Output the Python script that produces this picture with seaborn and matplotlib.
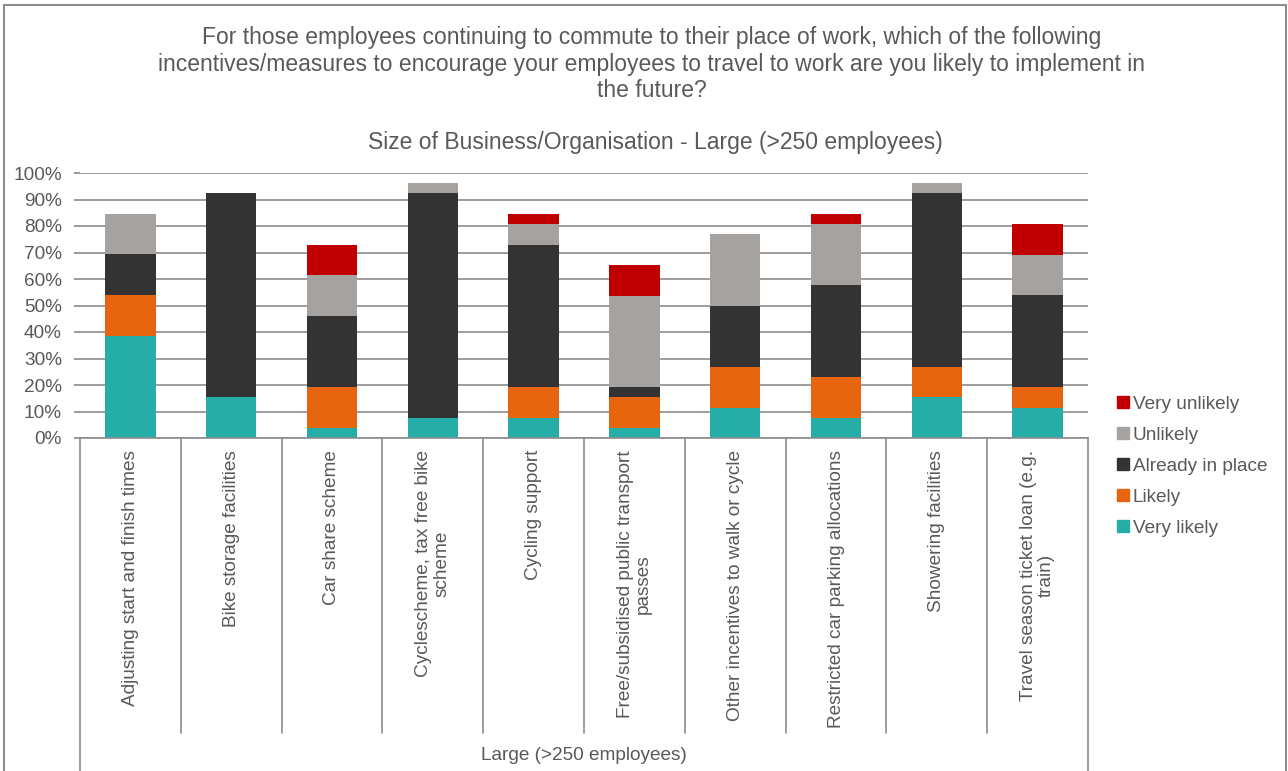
import matplotlib
matplotlib.use("Agg")
import matplotlib.pyplot as plt
from matplotlib.patches import Rectangle
from matplotlib.lines import Line2D
import numpy as np
import pandas as pd
import seaborn as sns

sns.set_theme(style="white")
plt.rcParams["font.family"] = ["Liberation Sans", "DejaVu Sans"]

categories = [
    "Adjusting start and finish times",
    "Bike storage facilities",
    "Car share scheme",
    "Cyclescheme, tax free bike\nscheme",
    "Cycling support",
    "Free/subsidised public transport\npasses",
    "Other incentives to walk or cycle",
    "Restricted car parking allocations",
    "Showering facilities",
    "Travel season ticket loan (e.g.\ntrain)",
]

# Shares of respondents (%) per measure
very_likely = [38.5, 15.4, 3.8, 7.7, 7.7, 3.8, 11.5, 7.7, 15.4, 11.5]
likely = [15.4, 0.0, 15.4, 0.0, 11.5, 11.5, 15.4, 15.4, 11.5, 7.7]
already_in_place = [15.4, 76.9, 26.9, 84.6, 53.8, 3.8, 23.1, 34.6, 65.4, 34.6]
unlikely = [15.4, 0.0, 15.4, 3.8, 7.7, 34.6, 26.9, 23.1, 3.8, 15.4]
very_unlikely = [0.0, 0.0, 11.5, 0.0, 3.8, 11.5, 0.0, 3.8, 0.0, 11.5]

series_names = ["Very likely", "Likely", "Already in place", "Unlikely", "Very unlikely"]
series_values = [very_likely, likely, already_in_place, unlikely, very_unlikely]
series_colors = ["#26ADA8", "#E8650F", "#333333", "#A5A2A0", "#C00000"]

title_text = ("For those employees continuing to commute to their place of work, which of the following\n"
              "incentives/measures to encourage your employees to travel to work are you likely to implement in\n"
              "the future?")
subtitle_text = "Size of Business/Organisation - Large (>250 employees)"
group_label = "Large (>250 employees)"

TEXT = "#595959"
LINE = "#8C8C8C"
FS = 13.7

fig = plt.figure(figsize=(12.88, 7.71), dpi=100)
W, H = 1288, 771
ax = fig.add_axes([80 / W, 1 - 438 / H, (1088 - 80) / W, (438 - 173) / H])

short_labels = [c.replace("\n", " ") for c in categories]
bottom = np.zeros(len(categories))
for name, vals, col in zip(series_names, series_values, series_colors):
    df = pd.DataFrame({"measure": short_labels, "value": vals})
    sns.barplot(data=df, x="measure", y="value", order=short_labels, color=col,
                width=0.5, bottom=bottom.copy(), ax=ax, saturation=1,
                edgecolor="none", linewidth=0, zorder=3)
    bottom += np.array(vals)

ax.set_xlim(-0.5, len(categories) - 0.5)
ax.set_ylim(0, 100)
ax.set_yticks(np.arange(0, 101, 10))
ax.set_yticklabels([f"{v}%" for v in range(0, 101, 10)], fontsize=FS, color=TEXT)
ax.yaxis.grid(True, color="#8C8C8C", linewidth=1.2, zorder=0)
ax.set_axisbelow(True)
ax.tick_params(axis="y", length=4, color=LINE, pad=9, left=True)
ax.set_xticks([])
ax.set_xlabel("")
ax.set_ylabel("")
for s in ["top", "right", "left"]:
    ax.spines[s].set_visible(False)
ax.spines["bottom"].set_color(LINE)
ax.spines["bottom"].set_linewidth(1.2)
ax.spines["bottom"].set_zorder(4)

# Category table below the axis
trans = ax.get_xaxis_transform()
sep_bottom = 1 - (733 - 173) / (438 - 173)
outer_bottom = 1 - (771 - 173) / (438 - 173)
for b in np.arange(0.5, len(categories) - 1, 1.0):
    ax.plot([b, b], [0, sep_bottom], transform=trans, color=LINE, lw=1.2, clip_on=False)
for b in [-0.5, len(categories) - 0.5]:
    ax.plot([b, b], [0, outer_bottom], transform=trans, color=LINE, lw=1.2, clip_on=False)

label_top = -(450 - 438) / (438 - 173)
for i, lab in enumerate(categories):
    ax.text(i, label_top, lab, transform=trans, rotation=90, ha="center", va="top",
            multialignment="center", fontsize=FS, color=TEXT, linespacing=1.05)

fig.text(584 / W, 1 - 755 / H, group_label, ha="center", va="center", fontsize=FS, color=TEXT)

# Titles
fig.text(652 / W, 1 - 64 / H, title_text, ha="center", va="center", fontsize=16.5,
         color=TEXT, linespacing=1.2)
fig.text(655 / W, 1 - 142 / H, subtitle_text, ha="center", va="center", fontsize=16.5, color=TEXT)

# Legend (reverse stacking order)
handles = [Line2D([0], [0], marker="s", linestyle="none", markersize=8,
                  markerfacecolor=c, markeredgecolor=c)
           for c in series_colors[::-1]]
fig.legend(handles, series_names[::-1], loc="upper left",
           bbox_to_anchor=(1104 / W, 1 - 386 / H), frameon=False, fontsize=FS,
           labelcolor=TEXT, handletextpad=0.0, handlelength=1.0,
           labelspacing=0.72, borderpad=0)

# Chart border
fig.add_artist(Rectangle((4 / W, -0.05), (1286 - 4) / W, 1.05 - 5 / H,
                         transform=fig.transFigure, fill=False,
                         edgecolor=LINE, linewidth=1.5))

fig.savefig("out.png", dpi=100, facecolor="white")
